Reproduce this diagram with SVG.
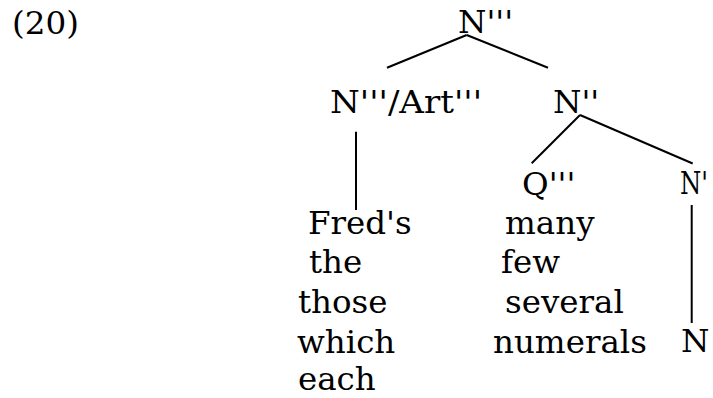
<svg xmlns="http://www.w3.org/2000/svg" width="713" height="398" viewBox="0 0 713 398">
<style>
text{font-family:"DejaVu Serif","Liberation Serif",serif;font-size:32.5px;fill:#000}
.e line{stroke:#000;stroke-width:2;stroke-linecap:butt}
</style>
<rect width="713" height="398" fill="#fff"/>
<text x="12" y="34" textLength="67" lengthAdjust="spacingAndGlyphs">(20)</text>
<g id="n-top"><text x="458" y="33">N'''</text></g>
<g id="n-art"><text x="330" y="113" textLength="152" lengthAdjust="spacingAndGlyphs">N'''/Art'''</text></g>
<g id="n2"><text x="553" y="113">N''</text></g>
<g id="q3"><text x="522" y="195">Q'''</text></g>
<g id="n1"><text x="680" y="194" textLength="28" lengthAdjust="spacingAndGlyphs">N'</text></g>
<g id="det-list">
<text x="308" y="234">Fred's</text>
<text x="309" y="273">the</text>
<text x="298" y="313">those</text>
<text x="297" y="353">which</text>
<text x="298" y="390">each</text>
</g>
<g id="q-list">
<text x="505" y="234">many</text>
<text x="501" y="273">few</text>
<text x="505" y="313">several</text>
<text x="493" y="353">numerals</text>
</g>
<g id="n0"><text x="681" y="352">N</text></g>
<g class="e" id="edges">
<line x1="466.7" y1="35" x2="387" y2="67.7"/>
<line x1="466.7" y1="35" x2="548" y2="67.7"/>
<line x1="356" y1="131.7" x2="356" y2="210"/>
<line x1="580" y1="115" x2="531.7" y2="163.3"/>
<line x1="580" y1="115" x2="692.7" y2="163.5"/>
<line x1="691.7" y1="205" x2="691.7" y2="323"/>
</g>
</svg>
